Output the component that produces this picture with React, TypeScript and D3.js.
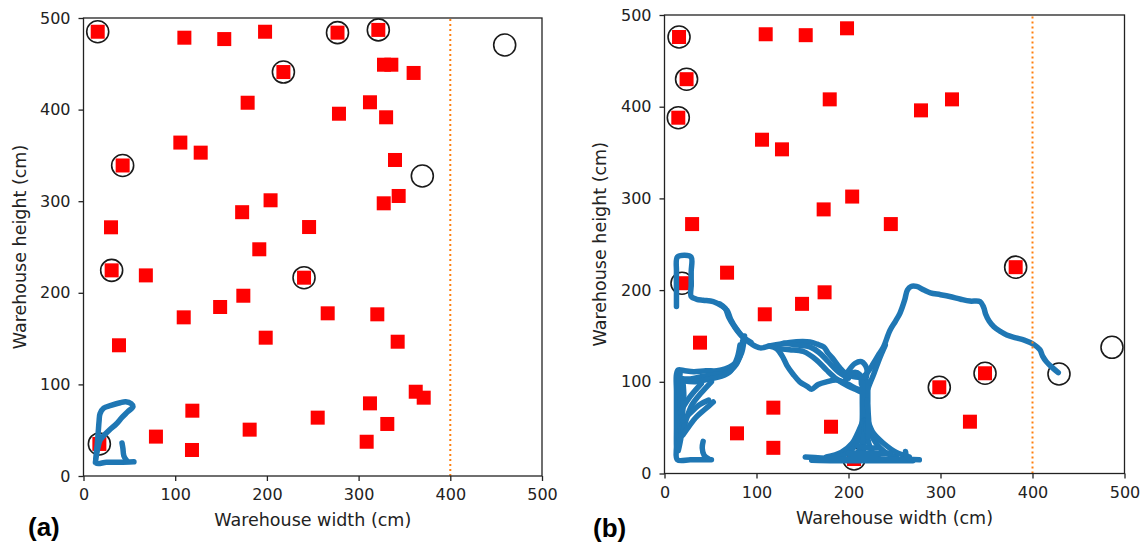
import React, { useRef, useEffect } from "react";
import * as d3 from "d3";

// axis ticks (both axes, both panels)
const axisTicks = [0, 100, 200, 300, 400, 500];
const aisleLimit = 400; // dotted vertical line

// ---- panel (a) ----
const shelvesA = [
  [15.5, 485], [110, 478.5], [153.5, 477], [198, 485], [277, 484], [321.5, 487],
  [218, 441], [327.7, 449], [335.7, 449], [360, 440], [179, 407.5], [312.4, 408],
  [278.6, 395.5], [330, 391.6], [105.6, 364], [127.8, 353], [42.7, 339], [339.7, 345],
  [343.7, 305.7], [327.4, 297.7], [204, 301], [173, 288], [30, 271.5], [246, 271.8],
  [191.7, 247.5], [30.7, 224.5], [68, 219], [240.5, 216.5], [174.3, 196.8], [149, 184.5],
  [109.3, 173.2], [266.3, 177.6], [320.4, 176.5], [342.6, 146.6], [38.7, 142.7], [198.7, 151],
  [362.3, 92], [371, 85.5], [312.4, 79.3], [255.4, 63.7], [331.3, 56.8], [308.8, 37.4],
  [118.7, 71.3], [79, 43], [181.2, 50.6], [118.3, 28.4], [17.3, 35],
];
const visitedA = [
  [15.5, 485], [277, 484], [321.5, 487], [218, 441], [42.7, 339], [30.7, 224.5],
  [240.5, 216.5], [17.3, 35], [459.3, 470.5], [369.5, 327.5],
];
const tracksA = [
  [[55, 15.5], [40, 15], [25, 15], [14, 14], [14, 25], [15, 35], [16, 47], [17, 60], [18, 68],
    [22, 74], [30, 77], [40, 80], [46, 81], [52, 79], [54, 76], [48, 70], [42, 64], [36, 57],
    [28, 50], [22, 44], [18, 39], [16, 32], [14, 22], [13, 15]],
  [[42, 36], [43, 30], [44, 22], [47, 17]],
];

// ---- panel (b) ----
const shelvesB = [
  [15.8, 476], [24, 430], [15, 388], [110, 479], [153.5, 478], [198.4, 485.5],
  [179.6, 408], [106, 364], [127.7, 353.5], [204, 302], [173, 288], [30, 272],
  [68, 219], [312.5, 408], [278.8, 396], [246, 272], [381.7, 225], [19, 207.5],
  [174, 197.6], [149.5, 185], [109, 173.6], [38.6, 142.7], [118.3, 71.8], [181, 51],
  [78.8, 43.8], [118.3, 28], [206, 15.8], [348.4, 109.3], [298.7, 94], [332, 56.5],
];
const visitedB = [
  [15.8, 476], [24, 430], [15, 388], [381.7, 225], [19, 207.5], [206, 15.8],
  [348.4, 109.3], [298.7, 94], [486.4, 137.6], [428.8, 108.5],
];
const tracksB = [
  // top-left loop and the long route to the exit
  [[13, 182], [13, 200], [13, 220], [14, 236], [22, 238], [29, 236], [29, 220], [29, 205],
    [29, 193], [35, 190], [42, 189], [53, 187.5], [62, 183], [68, 178], [72, 168], [78, 158],
    [86, 148], [95, 141], [104, 137], [114, 139], [125, 141], [136, 143], [150, 144],
    [158, 143.5], [166, 141], [173, 138], [178, 131], [184, 124], [190, 116], [196, 110],
    [205, 105.6], [216, 106], [222, 112], [227, 120], [233, 130], [238, 138], [245, 156],
    [251, 166], [256, 175], [261, 189], [264, 200], [268, 204], [274, 204], [282, 200],
    [289, 197], [300, 195], [310, 193], [322, 190], [332, 188], [343, 187.5], [347, 181],
    [349, 174], [353, 166], [358, 160], [365, 155], [372, 151], [382, 148], [391, 145.5],
    [401, 141], [408, 135], [411, 128], [415, 122], [421, 116], [428, 110]],
  [[60, 185], [66, 180], [70, 170], [76, 160], [84, 150], [94, 143]],
  // lower-left corner
  [[51, 15], [40, 15], [28, 15], [14, 15], [13, 30], [13, 50], [13, 70], [13, 90], [13, 108],
    [15, 113], [22, 112], [32, 111], [45, 112], [57, 112], [66, 114], [74, 118], [80, 124],
    [84, 132], [86, 142], [87, 150]],
  [[16, 104], [28, 103], [42, 106], [55, 108], [68, 110], [78, 119], [83, 131], [85, 145]],
  [[20, 101], [34, 100], [48, 103], [62, 106], [72, 112], [79, 126], [82, 140]],
  [[17, 110], [16, 95], [17, 80], [18, 65], [17, 50], [16, 35]],
  [[20, 100], [21, 85], [20, 70], [19, 55], [18, 40], [15, 25]],
  [[42, 35], [41, 28], [43, 20], [48, 16]],
  [[51, 100], [40, 88], [30, 75], [24, 60], [20, 45]],
  [[53, 78], [44, 70], [35, 62], [27, 52], [20, 42]],
  [[40, 98], [28, 84], [17, 67]],
  [[48, 80], [38, 75], [28, 66], [20, 58]],
  // tangle in the middle
  [[114, 139], [122, 136], [128, 128], [133, 118], [140, 108], [147, 100], [155, 95],
    [160, 92], [167, 97], [176, 100], [187, 102], [198, 98], [210, 92], [217, 90]],
  [[125, 136], [136, 135], [151, 133], [165, 124], [176, 113], [187, 103], [200, 95],
    [209, 91], [216, 88]],
  [[130, 142], [145, 140], [158, 138], [168, 132], [178, 122], [190, 110], [200, 104]],
  [[216, 80], [222, 95], [228, 110], [234, 126], [240, 140]],
  [[200, 112], [207, 120], [214, 122], [220, 114], [218, 100]],
  [[195, 100], [205, 110], [212, 108], [214, 98]],
  // trunk and its fan at the bottom
  [[218, 106], [218, 90], [218, 70], [218, 50], [217, 35], [216, 25], [212, 18]],
  [[215, 100], [215, 80], [215, 60], [214, 45]],
  [[221, 100], [221, 80], [221, 60], [222, 45]],
  [[216, 58], [210, 44], [204, 33], [192, 23], [176, 18]],
  [[217, 58], [213, 44], [209, 33], [200, 23], [188, 18]],
  [[218, 58], [217, 44], [215, 33], [210, 23], [202, 18]],
  [[219, 58], [220, 44], [222, 33], [226, 23], [232, 18]],
  [[220, 58], [224, 44], [230, 33], [240, 23], [252, 18]],
  [[221, 58], [227, 44], [238, 33], [252, 23], [266, 18]],
  [[210, 30], [220, 28], [232, 28]],
  [[200, 22], [220, 22], [245, 22]],
  [[220, 80], [222, 55], [221, 40]],
  [[153, 18], [170, 17], [190, 16], [210, 16], [230, 16], [250, 15.5], [265, 15.5], [277, 15]],
  [[160, 14.5], [185, 14], [215, 14], [245, 14], [270, 14]],
  [[262, 24], [263, 19], [266, 16]],
];

const panels = [
  { tag: "(a)", shelves: shelvesA, visited: visitedA, tracks: tracksA,
    left: 83.5, right: 542, top: 18, bottom: 476, tagX: 28, tagY: 536, xLabY: 526, yLabX: 26 },
  { tag: "(b)", shelves: shelvesB, visited: visitedB, tracks: tracksB,
    left: 664.5, right: 1124.5, top: 15, bottom: 473.5, tagX: 593, tagY: 537, xLabY: 524, yLabX: 606 },
];

const font = "'DejaVu Sans', sans-serif";

function drawPanel(svg, p, i) {
  const x = d3.scaleLinear().domain([0, 500]).range([p.left, p.right]);
  const y = d3.scaleLinear().domain([0, 500]).range([p.bottom, p.top]);
  const g = svg.append("g");

  const clipId = "plot-clip-" + i;
  g.append("clipPath").attr("id", clipId)
    .append("rect")
    .attr("x", p.left).attr("y", p.top)
    .attr("width", p.right - p.left).attr("height", p.bottom - p.top);

  const plot = g.append("g").attr("clip-path", `url(#${clipId})`);

  plot.selectAll(".shelf")
    .data(p.shelves)
    .join("rect")
    .attr("class", "shelf")
    .attr("x", (d) => x(d[0]) - 7)
    .attr("y", (d) => y(d[1]) - 7)
    .attr("width", 14)
    .attr("height", 14)
    .attr("fill", "#ff0000");

  plot.selectAll(".visited")
    .data(p.visited)
    .join("circle")
    .attr("class", "visited")
    .attr("cx", (d) => x(d[0]))
    .attr("cy", (d) => y(d[1]))
    .attr("r", 11)
    .attr("fill", "none")
    .attr("stroke", "#1a1a1a")
    .attr("stroke-width", 1.6);

  const line = d3.line()
    .x((d) => x(d[0]))
    .y((d) => y(d[1]))
    .curve(d3.curveCatmullRom);

  plot.selectAll(".track")
    .data(p.tracks)
    .join("path")
    .attr("class", "track")
    .attr("d", line)
    .attr("fill", "none")
    .attr("stroke", "#1f77b4")
    .attr("stroke-width", 5.5)
    .attr("stroke-linecap", "round")
    .attr("stroke-linejoin", "round");

  plot.append("line")
    .attr("x1", x(aisleLimit)).attr("x2", x(aisleLimit))
    .attr("y1", y(0)).attr("y2", y(500))
    .attr("stroke", "#ff7f0e")
    .attr("stroke-width", 2)
    .attr("stroke-dasharray", "2,3");

  // axes
  const xAxis = g.append("g")
    .attr("transform", `translate(0,${p.bottom})`)
    .call(d3.axisBottom(x).tickValues(axisTicks).tickSize(5).tickPadding(8));
  const yAxis = g.append("g")
    .attr("transform", `translate(${p.left},0)`)
    .call(d3.axisLeft(y).tickValues(axisTicks).tickSize(5).tickPadding(8));
  [xAxis, yAxis].forEach((a) => {
    a.select(".domain").remove();
    a.selectAll("line").attr("stroke", "#222").attr("stroke-width", 1.3);
    a.selectAll("text")
      .style("font-family", font)
      .style("font-size", "16px")
      .attr("fill", "#222");
  });

  g.append("rect")
    .attr("x", p.left).attr("y", p.top)
    .attr("width", p.right - p.left).attr("height", p.bottom - p.top)
    .attr("fill", "none")
    .attr("stroke", "#222")
    .attr("stroke-width", 1.3);

  g.append("text")
    .attr("x", (p.left + p.right) / 2)
    .attr("y", p.xLabY)
    .attr("text-anchor", "middle")
    .style("font-family", font)
    .style("font-size", "17.5px")
    .attr("fill", "#222")
    .text("Warehouse width (cm)");

  g.append("text")
    .attr("transform", `translate(${p.yLabX},${(p.top + p.bottom) / 2}) rotate(-90)`)
    .attr("text-anchor", "middle")
    .style("font-family", font)
    .style("font-size", "17.5px")
    .attr("fill", "#222")
    .text("Warehouse height (cm)");

  g.append("text")
    .attr("x", p.tagX)
    .attr("y", p.tagY)
    .style("font-family", "'Liberation Sans', Arial, sans-serif")
    .style("font-size", "26px")
    .style("font-weight", "bold")
    .attr("fill", "#000")
    .text(p.tag);
}

const App = () => {
  const svgRef = useRef(null);

  useEffect(() => {
    const svg = d3.select(svgRef.current);
    svg.selectAll("*").remove();
    panels.forEach((p, i) => drawPanel(svg, p, i));
  }, []);

  return (
    <svg
      ref={svgRef}
      width={1142}
      height={546}
      style={{ position: "absolute", left: 0, top: 0, background: "#fff" }}
    ></svg>
  );
};

export default App;
